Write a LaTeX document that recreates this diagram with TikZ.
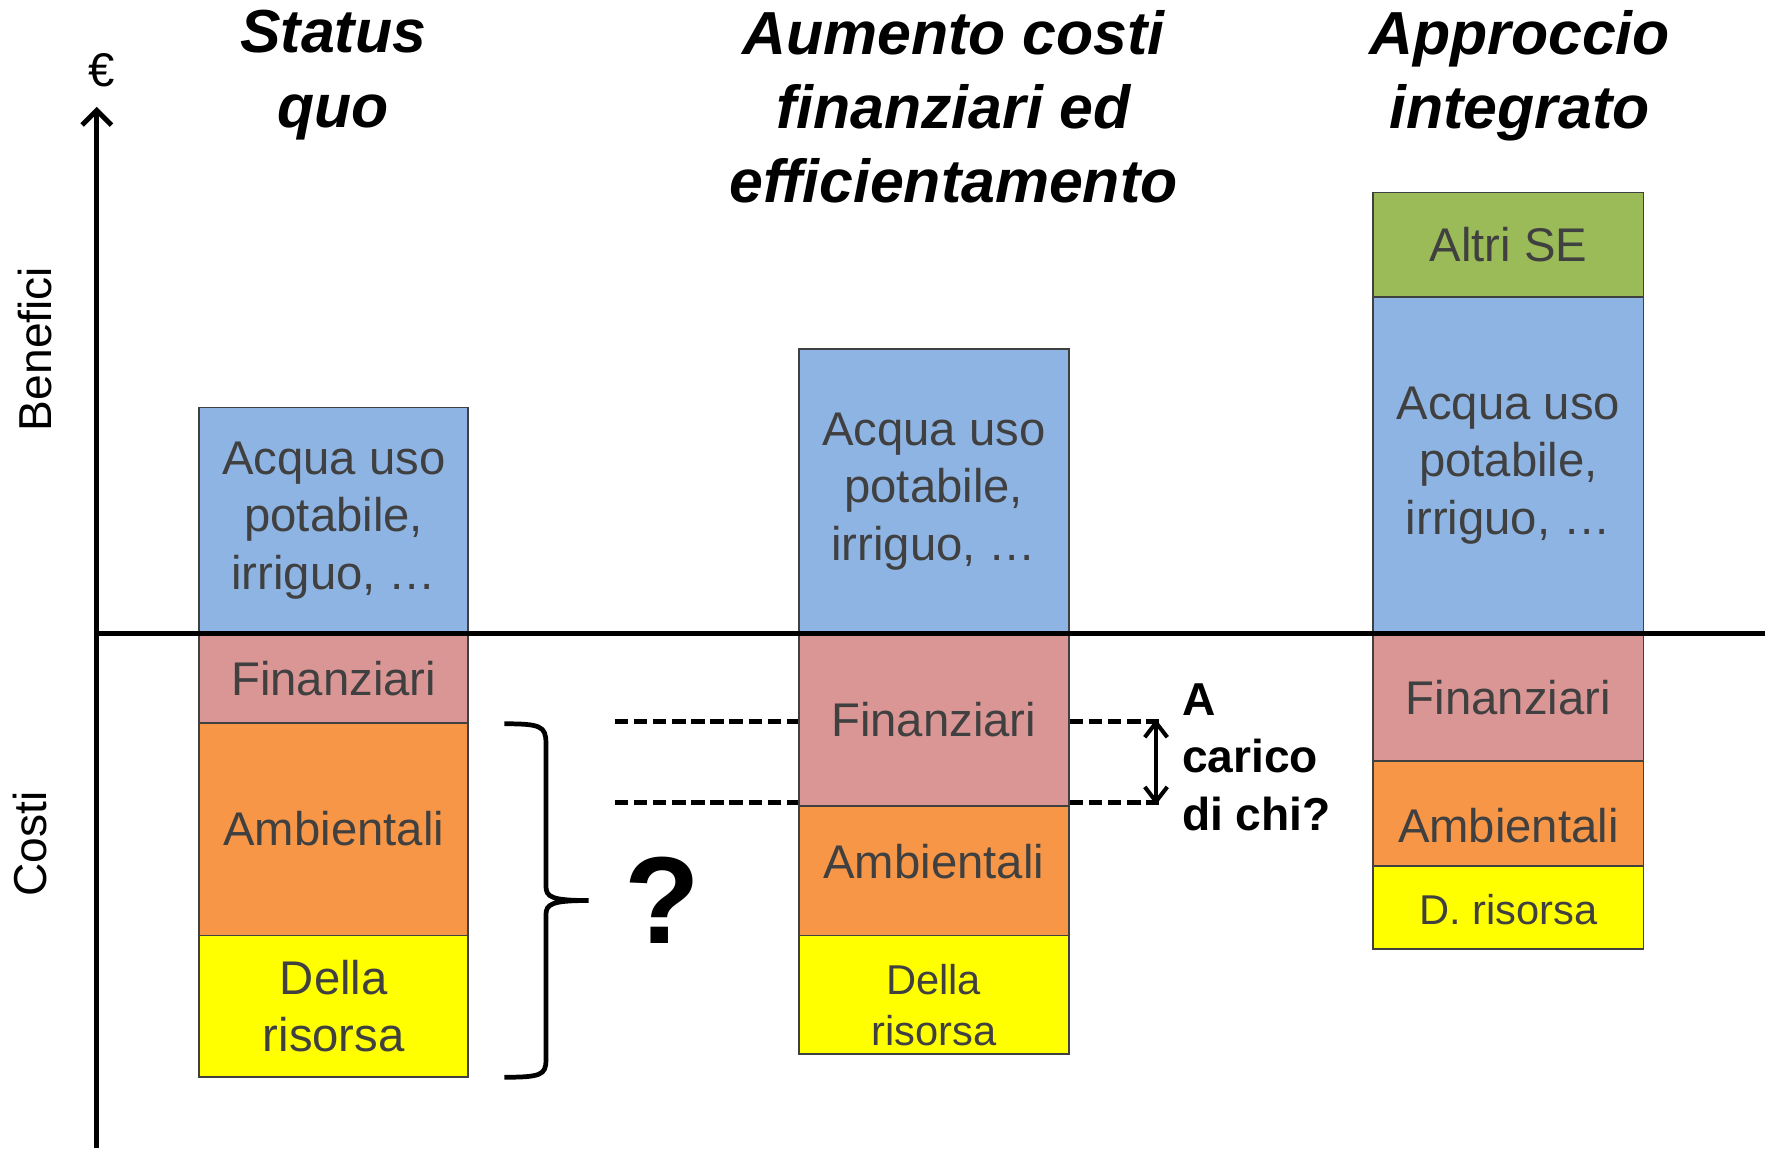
\documentclass[tikz,border=0pt]{standalone}
\usepackage{fontspec}
\setmainfont{Liberation Sans}
\usetikzlibrary{arrows.meta}
\definecolor{cblue}{HTML}{8EB4E3}
\definecolor{cpink}{HTML}{D99694}
\definecolor{corange}{HTML}{F79646}
\definecolor{cyellow}{HTML}{FFFF00}
\definecolor{cgreen}{HTML}{9BBB59}
\definecolor{segline}{HTML}{404040}
\definecolor{segtext}{HTML}{404040}
\begin{document}
\begin{tikzpicture}[x=1pt,y=-1pt,
  seg/.style={draw=segline, line width=1.6pt, text=segtext, align=center, inner sep=0pt, font=\fontsize{42}{51}\selectfont},
  c1/.style={seg, minimum width=239pt},
  c2/.style={seg, minimum width=240pt},
  c3/.style={seg, minimum width=240pt},
  segtxt/.style={text=segtext, align=center, inner sep=0pt, font=\fontsize{42}{51}\selectfont},
  title/.style={align=center, inner sep=0pt, anchor=north, font=\bfseries\itshape\fontsize{54}{66}\selectfont},
  axislbl/.style={inner sep=0pt, font=\fontsize{41}{50}\selectfont},
  thick line/.style={line width=4.4pt},
  dashline/.style={line width=4.2pt, dash pattern=on 12pt off 5pt},
  axisarrow/.style={-{Straight Barb[length=13pt,width=26pt,line width=4.4pt]}},
  dblarrow/.style={{Straight Barb[length=13pt,width=20pt,line width=3.6pt]}-{Straight Barb[length=13pt,width=20pt,line width=3.6pt]}},
]
\useasboundingbox (0,0) rectangle (1568,1020);

% titles
\node[title] (t1) at (296,9) {Status\\quo};
\node[title] (t2) at (847,9) {Aumento costi\\finanziari ed\\efficientamento};
\node[title] (t3) at (1350,9) {Approccio\\integrato};

% column 1
\node[c1, fill=cblue, minimum height=201pt] (q1b) at (296.5,462.5) {Acqua uso\\potabile,\\irriguo, …};
\node[c1, fill=cpink, minimum height=79pt] (q1f) at (296.5,602.5) {Finanziari};
\node[c1, fill=corange, minimum height=189pt] (q1a) at (296.5,736.5) {Ambientali};
\node[c1, fill=cyellow, minimum height=126pt] (q1r) at (296.5,894) {Della\\risorsa};

% column 2
\node[c2, fill=cblue, minimum height=253pt] (q2b) at (829.5,436.5) {Acqua uso\\potabile,\\irriguo, …};
\node[c2, fill=cpink, minimum height=153pt] (q2f) at (829.5,639.5) {Finanziari};
\node[c2, fill=corange, minimum height=115pt] (q2a) at (829.5,773.5) {};
\node[segtxt] (q2at) at (829.5,765) {Ambientali};
\node[c2, fill=cyellow, minimum height=105pt] (q2r) at (829.5,883.5) {};
\node[segtxt, font=\fontsize{37}{45}\selectfont] (q2rt) at (829.5,893) {Della\\risorsa};

% column 3
\node[c3, fill=cgreen, minimum height=93pt] (q3g) at (1340,217.5) {Altri SE};
\node[c3, fill=cblue, minimum height=299pt] (q3b) at (1340,413.5) {Acqua uso\\potabile,\\irriguo, …};
\node[c3, fill=cpink, minimum height=113pt] (q3f) at (1340,619.5) {Finanziari};
\node[c3, fill=corange, minimum height=93pt] (q3a) at (1340,722.5) {};
\node[segtxt] (q3at) at (1340,733) {Ambientali};
\node[c3, fill=cyellow, minimum height=74pt] (q3r) at (1340,806) {};
\node[segtxt, font=\fontsize{37}{45}\selectfont] (q3rt) at (1340,808) {D. risorsa};

% axes
\coordinate (axb) at (86,1020);
\coordinate (axt) at (86,95);
\coordinate (hl) at (86,563);
\coordinate (hr) at (1568,563);
\draw[thick line] (hl) -- (hr);
\draw[thick line, axisarrow] (axb) -- (axt);
\node[inner sep=0pt, font=\fontsize{42}{50}\selectfont] (eur) at (90,62) {€};
\node[axislbl, rotate=90] (ben) at (31,310) {Benefici};
\node[axislbl, rotate=90] (cos) at (27,750) {Costi};

% brace
\coordinate (br1) at (448,643);
\coordinate (brtip) at (523,800);
\coordinate (br2) at (448,957);
\draw[line width=4.2pt] (br1) .. controls (480,643) and (485,645) .. (485,660) -- (485,787)
  .. controls (485,797) and (490,800) .. (brtip)
  .. controls (490,800) and (485,803) .. (485,813) -- (485,942)
  .. controls (485,955) and (480,957) .. (br2);
\node[inner sep=0pt, font=\bfseries\fontsize{110}{120}\selectfont] (qm) at (588,800) {?};

% dashed lines
\coordinate (dl1) at (546,641);
\coordinate (dl2) at (546,713);
\coordinate (dr1) at (1030,641);
\coordinate (dr2) at (1030,713);
\draw[dashline] (dl1) -- (q2f.west |- dl1);
\draw[dashline] (dl2) -- (q2f.west |- dl2);
\draw[dashline] (q2f.east |- dr1) -- (dr1);
\draw[dashline] (q2f.east |- dr2) -- (dr2);
\coordinate (da1) at (1027,639);
\coordinate (da2) at (1027,715);
\draw[line width=3.6pt, dblarrow] (da1) -- (da2);
\node[anchor=north west, align=left, inner sep=0pt, font=\bfseries\fontsize{41}{51}\selectfont] (who) at (1050,607) {A\\carico\\di chi?};
\end{tikzpicture}
\end{document}
